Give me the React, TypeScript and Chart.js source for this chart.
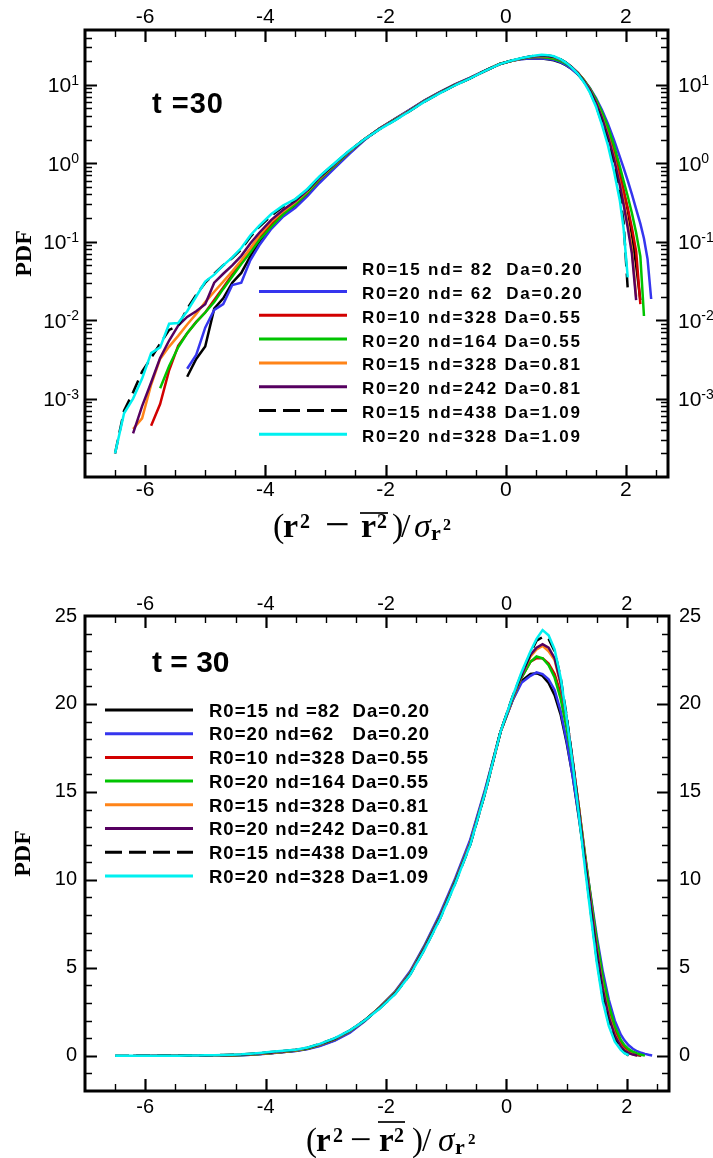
import React, { useEffect, useRef } from "react";
import { Chart, registerables } from "chart.js";

Chart.register(...registerables);

const SANS = '"Liberation Sans", Arial, Helvetica, sans-serif';
const SERIF = '"Liberation Serif", "Times New Roman", serif';

// x positions of the PDF bins, (r^2 - mean r^2)/sigma
const xGrid = [
  -6.5, -6.35, -6.2, -6.05, -5.9, -5.75, -5.6, -5.45, -5.3, -5.15,
  -5.0, -4.85, -4.7, -4.55, -4.4, -4.25, -4.1, -3.9, -3.7, -3.5,
  -3.3, -3.1, -2.85, -2.6, -2.35, -2.1, -1.85, -1.6, -1.35, -1.1,
  -0.85, -0.6, -0.35, -0.1, 0.1, 0.25, 0.4, 0.5, 0.6, 0.7,
  0.8, 0.9, 1.0, 1.1, 1.2, 1.3, 1.4, 1.5, 1.6, 1.7,
  1.8, 1.9, 1.96, 2.03, 2.1, 2.17, 2.24, 2.3, 2.36, 2.42,
];

const pdfR15nd82 = [
  null, null, null, null, null, null, null, null, 0.0019, 0.0032,
  0.0046, 0.014, 0.019, 0.03, 0.04, 0.065, 0.1, 0.155, 0.22, 0.29,
  0.4, 0.59, 0.9, 1.36, 2.0, 2.77, 3.62, 4.75, 6.3, 8.0,
  10.0, 12.2, 15.1, 18.4, 20.2, 21.3, 21.7, 21.75, 21.6, 21.2,
  20.5, 19.4, 17.8, 15.9, 13.6, 11.2, 8.8, 6.4, 4.3, 2.7,
  1.5, 0.75, 0.45, 0.25, 0.12, 0.05, 0.018, null, null, null,
];
const pdfR20nd62 = [
  null, null, null, null, null, null, null, null, 0.0024, 0.0036,
  0.008, 0.0135, 0.016, 0.028, 0.03, 0.058, 0.09, 0.146, 0.21, 0.27,
  0.38, 0.56, 0.86, 1.32, 1.98, 2.78, 3.65, 4.8, 6.35, 8.1,
  10.1, 12.3, 15.2, 18.4, 20.2, 21.2, 21.6, 21.8, 21.7, 21.4,
  20.8, 19.6, 17.9, 15.9, 13.7, 11.4, 9.1, 6.8, 4.8, 3.2,
  2.0, 1.2, 0.88, 0.6, 0.4, 0.26, 0.17, 0.11, 0.06, 0.0186,
];
const pdfR10nd328 = [
  null, null, null, null, 0.00045, 0.00085, 0.0023, 0.0047, 0.0068, 0.0095,
  0.0125, 0.018, 0.026, 0.038, 0.056, 0.08, 0.115, 0.165, 0.23, 0.3,
  0.42, 0.62, 0.93, 1.4, 2.02, 2.76, 3.6, 4.7, 6.25, 7.95,
  9.95, 12.1, 15.05, 18.4, 20.3, 21.5, 22.4, 22.6, 22.6, 22.3,
  21.7, 20.6, 18.9, 16.7, 14.2, 11.5, 8.9, 6.4, 4.2, 2.6,
  1.4, 0.7, 0.45, 0.27, 0.15, 0.075, 0.016, null, null, null,
];
const pdfR20nd164 = [
  null, null, null, null, null, 0.00135, 0.0026, 0.0045, 0.0068, 0.0094,
  0.0125, 0.017, 0.025, 0.036, 0.052, 0.073, 0.105, 0.155, 0.225, 0.3,
  0.42, 0.62, 0.93, 1.4, 2.02, 2.76, 3.6, 4.7, 6.25, 7.95,
  9.95, 12.1, 15.05, 18.4, 20.3, 21.5, 22.4, 22.7, 22.6, 22.2,
  21.5, 20.3, 18.6, 16.6, 14.2, 11.6, 9.0, 6.6, 4.5, 2.9,
  1.7, 0.9, 0.6, 0.38, 0.23, 0.13, 0.065, 0.0113, null, null,
];
const pdfR15nd328 = [
  null, null, 0.00041, 0.00056, 0.0015, 0.0032, 0.0046, 0.0063, 0.0088, 0.012,
  0.017, 0.023, 0.031, 0.042, 0.058, 0.082, 0.12, 0.18, 0.245, 0.32,
  0.44, 0.64, 0.96, 1.42, 2.03, 2.75, 3.58, 4.68, 6.2, 7.9,
  9.9, 12.1, 15.0, 18.4, 20.3, 21.6, 22.7, 23.1, 23.3, 23.0,
  22.5, 21.1, 19.2, 16.8, 14.2, 11.4, 8.7, 6.1, 3.9, 2.3,
  1.2, 0.55, 0.33, 0.17, 0.08, 0.02, null, null, null, null,
];
const pdfR20nd242 = [
  null, null, 0.00036, 0.0008, 0.0016, 0.0033, 0.0055, 0.0085, 0.011, 0.013,
  0.016, 0.03, 0.039, 0.05, 0.066, 0.095, 0.13, 0.19, 0.255, 0.33,
  0.45, 0.65, 0.97, 1.43, 2.03, 2.74, 3.56, 4.66, 6.2, 7.9,
  9.9, 12.05, 15.0, 18.4, 20.35, 21.6, 22.8, 23.2, 23.4, 23.2,
  22.6, 21.2, 19.2, 16.8, 14.1, 11.3, 8.6, 6.0, 3.8, 2.2,
  1.15, 0.52, 0.3, 0.15, 0.07, 0.018, null, null, null, null,
];
const pdfR15nd438 = [
  0.0002, 0.0007, 0.0012, 0.0022, 0.0033, 0.005, 0.0075, 0.0085, 0.014, 0.021,
  0.03, 0.039, 0.05, 0.062, 0.08, 0.115, 0.155, 0.215, 0.28, 0.345,
  0.46, 0.67, 0.99, 1.44, 2.02, 2.71, 3.52, 4.62, 6.12, 7.82,
  9.82, 12.0, 15.0, 18.4, 20.4, 21.7, 22.9, 23.6, 23.8, 23.7,
  23.0, 21.5, 19.3, 16.7, 13.9, 11.0, 8.2, 5.5, 3.3, 1.85,
  0.9, 0.38, 0.18, 0.025, null, null, null, null, null, null,
];
const pdfR20nd328 = [
  0.0002, 0.00065, 0.001, 0.0018, 0.0038, 0.0045, 0.009, 0.0092, 0.013, 0.02,
  0.031, 0.038, 0.05, 0.063, 0.083, 0.12, 0.16, 0.225, 0.29, 0.35,
  0.47, 0.68, 1.0, 1.45, 2.02, 2.7, 3.5, 4.6, 6.1, 7.8,
  9.8, 12.0, 15.0, 18.4, 20.4, 21.8, 23.0, 23.7, 24.2, 23.9,
  23.1, 21.5, 19.2, 16.6, 13.8, 10.8, 8.0, 5.3, 3.1, 1.7,
  0.8, 0.33, 0.15, 0.035, null, null, null, null, null, null,
];

const seriesData = [
  pdfR15nd82, pdfR20nd62, pdfR10nd328, pdfR20nd164,
  pdfR15nd328, pdfR20nd242, pdfR15nd438, pdfR20nd328,
];
const seriesColors = [
  "#000000", "#3535ee", "#d20000", "#00c400",
  "#ff8418", "#560060", "#000000", "#00f0f0",
];
const seriesDashed = [false, false, false, false, false, false, true, false];

const legendLabelsLog = [
  "R0=15 nd= 82  Da=0.20",
  "R0=20 nd= 62  Da=0.20",
  "R0=10 nd=328 Da=0.55",
  "R0=20 nd=164 Da=0.55",
  "R0=15 nd=328 Da=0.81",
  "R0=20 nd=242 Da=0.81",
  "R0=15 nd=438 Da=1.09",
  "R0=20 nd=328 Da=1.09",
];
const legendLabelsLinear = [
  "R0=15 nd =82  Da=0.20",
  "R0=20 nd=62   Da=0.20",
  "R0=10 nd=328 Da=0.55",
  "R0=20 nd=164 Da=0.55",
  "R0=15 nd=328 Da=0.81",
  "R0=20 nd=242 Da=0.81",
  "R0=15 nd=438 Da=1.09",
  "R0=20 nd=328 Da=1.09",
];

const xMajorTicks = [-6, -4, -2, 0, 2];
const xMinorTicks = [-6.5, -5.5, -5, -4.5, -3.5, -3, -2.5, -1.5, -1, -0.5, 0.5, 1, 1.5, 2.5];
const logMajorTicks = [0.001, 0.01, 0.1, 1, 10];
const logTickBase = "10";
const logTickExponents = ["-3", "-2", "-1", "0", "1"];
const logDecades = [0.0001, 0.001, 0.01, 0.1, 1, 10];
const logMinorMultipliers = [2, 3, 4, 5, 6, 7, 8, 9];
const linMajorTicks = [0, 5, 10, 15, 20, 25];
const linMinorTicks = [-1, 1, 2, 3, 4, 6, 7, 8, 9, 11, 12, 13, 14, 16, 17, 18, 19, 21, 22, 23, 24];
const timeLabelLog = "t =30";
const timeLabelLinear = "t = 30";
const yTitle = "PDF";

const logMinorTicks: number[] = [];
logDecades.forEach((d) =>
  logMinorMultipliers.forEach((m) => {
    const v = m * d;
    if (v < 50) logMinorTicks.push(v);
  })
);

// x-axis title: (r^2 - overline{r^2}) / sigma_{r^2}
// pos = pixel offsets of the 11 glyphs from the left end
function drawMathTitle(
  ctx: CanvasRenderingContext2D,
  left: number,
  baseline: number,
  S: number,
  pos: number[],
  ovLift: number,
  minusSize: number
) {
  const big = `${S}px ${SERIF}`;
  const bold = `bold ${S}px ${SERIF}`;
  const sup = `bold ${Math.round(S * 0.6)}px ${SERIF}`;
  const ital = `italic ${S}px ${SERIF}`;
  const sub = `bold ${Math.round(S * 0.66)}px ${SERIF}`;
  const subsup = `bold ${Math.round(S * 0.46)}px ${SERIF}`;
  const parts: any[] = [
    { t: "(", f: big, dy: 0 },
    { t: "r", f: bold, dy: 0 },
    { t: "2", f: sup, dy: -0.27 * S },
    { t: "−", f: `${minusSize}px ${SERIF}`, dy: 0.24 * (minusSize - S) },
    { t: "r", f: bold, dy: 0 },
    { t: "2", f: sup, dy: -0.27 * S },
    { t: ")", f: big, dy: 0 },
    { t: "/", f: big, dy: 0 },
    { t: "σ", f: ital, dy: 0 },
    { t: "r", f: sub, dy: 0.1 * S },
    { t: "2", f: subsup, dy: -0.2 * S },
  ];
  ctx.fillStyle = "#000";
  ctx.textAlign = "left";
  ctx.textBaseline = "alphabetic";
  parts.forEach((p, i) => {
    ctx.font = p.f;
    ctx.fillText(p.t, left + pos[i], baseline + p.dy);
  });
  ctx.font = sup;
  const w2 = ctx.measureText("2").width;
  ctx.strokeStyle = "#000";
  ctx.lineWidth = 1.7;
  ctx.beginPath();
  ctx.moveTo(left + pos[4] - 1, baseline - ovLift);
  ctx.lineTo(left + pos[5] + w2 + 1, baseline - ovLift);
  ctx.stroke();
}

const decorPlugin = {
  id: "decor",
  afterDraw(chart: any, _args: any, o: any) {
    const ctx: CanvasRenderingContext2D = chart.ctx;
    const ca = chart.chartArea;
    const xs = chart.scales.x;
    const ys = chart.scales.y;
    ctx.save();
    ctx.strokeStyle = "#000";
    ctx.lineCap = "butt";
    const tickX = (v: number, len: number, w: number) => {
      if (v <= xs.min || v >= xs.max) return;
      const px = Math.round(xs.getPixelForValue(v)) + 0.5;
      ctx.lineWidth = w;
      ctx.beginPath();
      ctx.moveTo(px, ca.bottom);
      ctx.lineTo(px, ca.bottom - len);
      ctx.moveTo(px, ca.top);
      ctx.lineTo(px, ca.top + len);
      ctx.stroke();
    };
    const tickY = (v: number, len: number, w: number) => {
      if (v <= ys.min || v >= ys.max) return;
      const py = Math.round(ys.getPixelForValue(v)) + 0.5;
      ctx.lineWidth = w;
      ctx.beginPath();
      ctx.moveTo(ca.left, py);
      ctx.lineTo(ca.left + len, py);
      ctx.moveTo(ca.right, py);
      ctx.lineTo(ca.right - len, py);
      ctx.stroke();
    };
    o.xMinor.forEach((v: number) => tickX(v, 7, 1.4));
    o.xMajor.forEach((v: number) => tickX(v, 12, 2.2));
    o.yMinor.forEach((v: number) => tickY(v, 7, 1.4));
    o.yMajor.forEach((v: number) => tickY(v, 12, 2.2));
    ctx.lineWidth = 3;
    ctx.strokeRect(ca.left, ca.top, ca.right - ca.left, ca.bottom - ca.top);

    ctx.fillStyle = "#000";
    ctx.textAlign = "left";
    ctx.textBaseline = "alphabetic";

    // power-of-ten labels on both log axes
    if (o.logLabels) {
      logMajorTicks.forEach((v, i) => {
        const py = ys.getPixelForValue(v);
        const ex = logTickExponents[i];
        ctx.font = `21px ${SANS}`;
        const wb = ctx.measureText(logTickBase).width;
        ctx.font = `14px ${SANS}`;
        const we = ctx.measureText(ex).width;
        const drawAt = (x0: number) => {
          ctx.font = `21px ${SANS}`;
          ctx.fillText(logTickBase, x0, py + 7.5);
          ctx.font = `14px ${SANS}`;
          ctx.fillText(ex, x0 + wb, py);
        };
        drawAt(ca.left - 6 - wb - we);
        drawAt(ca.right + 10);
      });
    }

    ctx.font = o.timeFont;
    (ctx as any).letterSpacing = o.timeSpacing;
    ctx.fillText(o.timeText, o.timeX, o.timeY);

    o.labels.forEach((lab: string, i: number) => {
      const y = o.legY + i * o.legDy;
      ctx.strokeStyle = seriesColors[i];
      ctx.lineWidth = 3;
      ctx.setLineDash(seriesDashed[i] ? [17, 7] : []);
      ctx.beginPath();
      ctx.moveTo(o.legX1, y);
      ctx.lineTo(o.legX2, y);
      ctx.stroke();
      ctx.setLineDash([]);
      ctx.font = o.legFont;
      (ctx as any).letterSpacing = o.legSpacing;
      ctx.fillStyle = "#000";
      ctx.fillText(lab, o.legTextX, y + o.legBaseOff);
    });
    (ctx as any).letterSpacing = "0px";
    drawMathTitle(ctx, o.titleLeft, o.titleY, o.titleSize, o.titlePos, o.titleOv, o.titleMinus);
    ctx.restore();
  },
};

function makeDatasets() {
  return seriesData.map((arr, i) => ({
    label: legendLabelsLog[i],
    data: xGrid
      .map((x, j) => ({ x, y: arr[j] }))
      .filter((p) => p.y !== null),
    borderColor: seriesColors[i],
    backgroundColor: seriesColors[i],
    borderWidth: 2.5,
    borderDash: seriesDashed[i] ? [14, 7] : [],
    pointRadius: 0,
    fill: false,
    tension: 0,
    order: 7 - i,
  }));
}

function xAxis(position: "top" | "bottom", height: number, padding: number, fontSize: number) {
  return {
    type: "linear",
    position,
    min: -7,
    max: 2.7,
    afterBuildTicks: (s: any) => {
      s.ticks = xMajorTicks.map((v) => ({ value: v }));
    },
    afterFit: (s: any) => {
      s.height = height;
    },
    grid: { display: false, drawTicks: false },
    border: { display: false },
    ticks: {
      color: "#000",
      font: { family: SANS, size: fontSize },
      padding,
      maxRotation: 0,
      autoSkip: false,
      callback: (v: any) => String(v),
    },
  };
}

function logYAxis(position: "left" | "right", width: number, withTitle: boolean) {
  return {
    type: "logarithmic",
    position,
    min: 0.0001,
    max: 50,
    afterBuildTicks: (s: any) => {
      s.ticks = logMajorTicks.map((v) => ({ value: v }));
    },
    afterFit: (s: any) => {
      s.width = width;
    },
    grid: { display: false, drawTicks: false },
    border: { display: false },
    title: {
      display: withTitle,
      text: yTitle,
      color: "#000",
      font: { family: SERIF, size: 24, weight: "bold" },
      padding: { top: 10, bottom: 0 },
    },
    ticks: { display: false },
  };
}

function linYAxis(position: "left" | "right", width: number, padding: number, withTitle: boolean) {
  return {
    type: "linear",
    position,
    min: -2,
    max: 25,
    afterBuildTicks: (s: any) => {
      s.ticks = linMajorTicks.map((v) => ({ value: v }));
    },
    afterFit: (s: any) => {
      s.width = width;
    },
    grid: { display: false, drawTicks: false },
    border: { display: false },
    title: {
      display: withTitle,
      text: yTitle,
      color: "#000",
      font: { family: SERIF, size: 24, weight: "bold" },
      padding: { top: 9, bottom: 0 },
    },
    ticks: {
      color: "#000",
      font: { family: SANS, size: 20 },
      padding,
      autoSkip: false,
      callback: (v: any) => String(v),
    },
  };
}

function LogChart() {
  const ref = useRef<HTMLCanvasElement | null>(null);
  useEffect(() => {
    if (!ref.current) return;
    const chart = new Chart(ref.current, {
      type: "line",
      data: { datasets: makeDatasets() as any },
      options: {
        animation: false,
        responsive: false,
        events: [],
        layout: { padding: 0 },
        plugins: {
          legend: { display: false },
          tooltip: { enabled: false },
          decor: {
            logLabels: true,
            xMajor: xMajorTicks,
            xMinor: xMinorTicks,
            yMajor: logMajorTicks,
            yMinor: logMinorTicks,
            timeText: timeLabelLog,
            timeFont: `bold 29px ${SANS}`,
            timeSpacing: "1px",
            timeX: 152,
            timeY: 113,
            labels: legendLabelsLog,
            legX1: 259,
            legX2: 347,
            legTextX: 362,
            legY: 267.7,
            legDy: 23.8,
            legFont: `bold 17px ${SANS}`,
            legSpacing: "1.8px",
            legBaseOff: 7.5,
            titleLeft: 273,
            titleY: 537,
            titleSize: 34,
            titlePos: [0, 10, 27, 52, 88, 104, 119, 128, 141, 158, 170],
            titleOv: 24,
            titleMinus: 44,
          },
        } as any,
        scales: {
          x: xAxis("bottom", 83, 1, 21),
          x2: xAxis("top", 30, 0, 21),
          y: logYAxis("left", 85, true),
          y2: logYAxis("right", 45, false),
        } as any,
      },
      plugins: [decorPlugin],
    });
    return () => chart.destroy();
  }, []);
  return <canvas ref={ref} width={713} height={560} style={{ display: "block" }} />;
}

function LinearChart() {
  const ref = useRef<HTMLCanvasElement | null>(null);
  useEffect(() => {
    if (!ref.current) return;
    const chart = new Chart(ref.current, {
      type: "line",
      data: { datasets: makeDatasets() as any },
      options: {
        animation: false,
        responsive: false,
        events: [],
        layout: { padding: 0 },
        plugins: {
          legend: { display: false },
          tooltip: { enabled: false },
          decor: {
            logLabels: false,
            xMajor: xMajorTicks,
            xMinor: xMinorTicks,
            yMajor: linMajorTicks,
            yMinor: linMinorTicks,
            timeText: timeLabelLinear,
            timeFont: `bold 30px ${SANS}`,
            timeSpacing: "0px",
            timeX: 152,
            timeY: 112,
            labels: legendLabelsLinear,
            legX1: 105,
            legX2: 193,
            legTextX: 209,
            legY: 150,
            legDy: 23.7,
            legFont: `bold 18.5px ${SANS}`,
            legSpacing: "1px",
            legBaseOff: 6.7,
            titleLeft: 306,
            titleY: 591,
            titleSize: 33,
            titlePos: [0, 10, 27, 44, 73, 88, 106, 116, 132, 149, 162],
            titleOv: 29,
            titleMinus: 38,
          },
        } as any,
        scales: {
          x: xAxis("bottom", 67, 4, 20),
          x2: xAxis("top", 56, 0, 20),
          y: linYAxis("left", 85, 8, true),
          y2: linYAxis("right", 44, 10, false),
        } as any,
      },
      plugins: [decorPlugin],
    });
    return () => chart.destroy();
  }, []);
  return <canvas ref={ref} width={713} height={598} style={{ display: "block" }} />;
}

export default function App() {
  return (
    <div
      style={{
        position: "absolute",
        left: 0,
        top: 0,
        width: 713,
        height: 1158,
        background: "#fff",
        overflow: "hidden",
      }}
    >
      <LogChart />
      <LinearChart />
    </div>
  );
}
